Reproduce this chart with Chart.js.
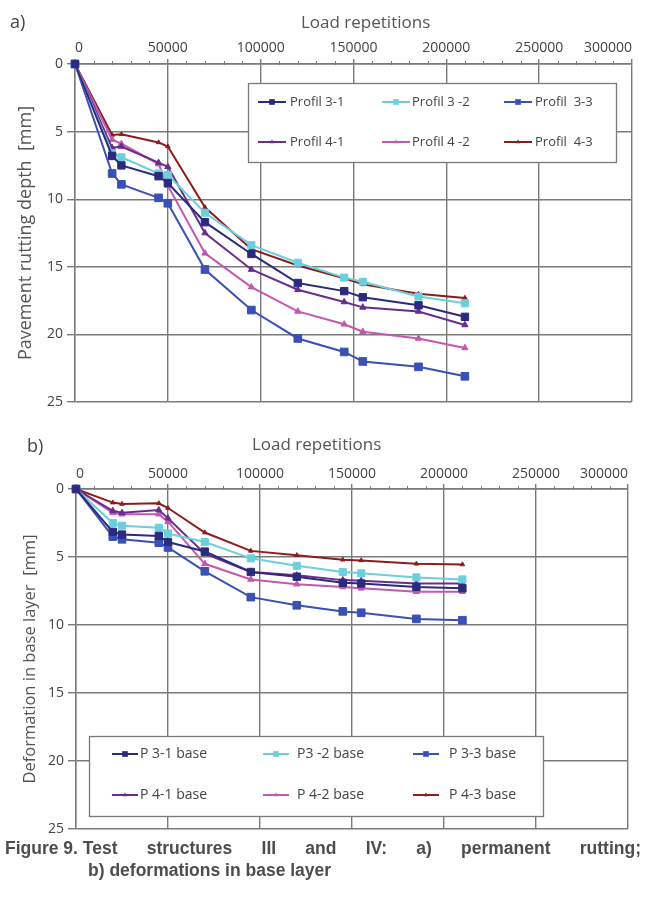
<!DOCTYPE html>
<html><head><meta charset="utf-8">
<script src="https://cdn.jsdelivr.net/npm/chart.js@4.4.1/dist/chart.umd.min.js"></script>
<style>
html,body{margin:0;padding:0;background:#fff;}
body{width:647px;height:898px;position:relative;overflow:hidden;}
canvas{position:absolute;left:0;}
.lbl{position:absolute;font-family:'Open Sans';font-size:18px;line-height:1;color:#444;}
.xt{position:absolute;font-family:'Open Sans';font-size:17px;line-height:1;color:#555;white-space:nowrap;}
.cap{position:absolute;font-family:'Liberation Sans',Arial,sans-serif;font-weight:bold;font-size:17.5px;line-height:1;color:#4d4d4d;white-space:nowrap;}
#cap1{left:5px;width:636px;top:840px;display:flex;justify-content:space-between;}
#cap2{left:88px;top:862px;}
</style></head>
<body>
<canvas id="ca" width="647" height="420" style="top:0;width:647px;height:420px"></canvas>
<canvas id="cb" width="647" height="420" style="top:420px;width:647px;height:420px"></canvas>
<div class="lbl" style="left:10px;top:12px">a)</div>
<div class="lbl" style="left:27px;top:436px">b)</div>
<div class="xt" style="left:301px;top:13px">Load repetitions</div>
<div class="xt" style="left:252px;top:435px">Load repetitions</div>
<div class="cap" id="cap1"><span>Figure 9. Test</span><span>structures</span><span>III</span><span>and</span><span>IV:</span><span>a)</span><span>permanent</span><span>rutting;</span></div>
<div class="cap" id="cap2">b) deformations in base layer</div>
<script>
// ---- data ----
const loadRepetitions = [0, 20000, 25000, 45000, 50000, 70000, 95000, 120000, 145000, 155000, 185000, 210000];
const xTickValues = [0, 50000, 100000, 150000, 200000, 250000, 300000];
const yTickValues = [0, 5, 10, 15, 20, 25];

const labelsA = ['Profil 3-1', 'Profil 3 -2', 'Profil  3-3', 'Profil 4-1', 'Profil 4 -2', 'Profil  4-3'];
const rut31 = [0, 6.8, 7.5, 8.3, 8.8, 11.7, 14.05, 16.2, 16.8, 17.25, 17.85, 18.7];
const rut32 = [0, 6.6, 6.9, 8.1, 8.2, 11.0, 13.4, 14.7, 15.8, 16.1, 17.2, 17.7];
const rut33 = [0, 8.1, 8.9, 9.9, 10.3, 15.2, 18.2, 20.3, 21.3, 22.0, 22.4, 23.1];
const rut41 = [0, 6.2, 6.1, 7.3, 7.6, 12.5, 15.2, 16.7, 17.6, 18.0, 18.3, 19.3];
const rut42 = [0, 5.6, 5.9, 7.4, 9.0, 14.0, 16.5, 18.3, 19.25, 19.8, 20.3, 21.0];
const rut43 = [0, 5.25, 5.2, 5.8, 6.1, 10.6, 13.7, 14.9, 15.85, 16.3, 17.0, 17.3];

const labelsB = ['P 3-1 base', 'P3 -2 base', 'P 3-3 base', 'P 4-1 base', 'P 4-2 base', 'P 4-3 base'];
const base31 = [0, 3.15, 3.35, 3.45, 3.9, 4.6, 6.1, 6.45, 6.9, 6.95, 7.2, 7.3];
const base32 = [0, 2.5, 2.7, 2.85, 3.27, 3.9, 5.1, 5.65, 6.1, 6.2, 6.5, 6.65];
const base33 = [0, 3.5, 3.7, 3.95, 4.3, 6.05, 7.95, 8.55, 9.0, 9.1, 9.55, 9.65];
const base41 = [0, 1.6, 1.75, 1.55, 2.15, 4.75, 6.1, 6.35, 6.7, 6.75, 6.95, 6.95];
const base42 = [0, 1.75, 1.85, 1.85, 2.4, 5.5, 6.65, 7.0, 7.2, 7.3, 7.55, 7.55];
const base43 = [0, 1.0, 1.1, 1.05, 1.4, 3.2, 4.55, 4.87, 5.2, 5.25, 5.5, 5.55];

// ---- styles ----
const colors = ['#2c2a7e', '#6ccfdc', '#3a50b4', '#6b2d8c', '#c457b1', '#8d1c1c'];
const styles = ['rect', 'rect', 'rect', 'triangle', 'triangle', 'triangle'];
const radii = [5.2, 5.0, 5.4, 3.6, 3.6, 2.6];
const GRID = '#7a7a7a';

function makeSets(labels, series) {
  return series.map((vals, i) => ({
    label: labels[i],
    data: loadRepetitions.map((x, j) => ({x: x, y: vals[j]})),
    borderColor: colors[i],
    backgroundColor: colors[i],
    pointStyle: styles[i],
    pointRadius: radii[i],
    pointHoverRadius: radii[i],
    pointBorderWidth: 1,
    borderWidth: 2,
    tension: 0,
    clip: false
  }));
}

function drawMarker(ctx, style, x, y, r) {
  ctx.beginPath();
  if (style === 'rect') {
    const s = r * Math.SQRT1_2;
    ctx.rect(x - s, y - s, 2 * s, 2 * s);
  } else if (style === 'triangle') {
    ctx.moveTo(x, y - r);
    ctx.lineTo(x + r * 0.866, y + r * 0.5);
    ctx.lineTo(x - r * 0.866, y + r * 0.5);
    ctx.closePath();
  } else {
    ctx.arc(x, y, r, 0, Math.PI * 2);
  }
  ctx.fill();
}

const decor = {
  id: 'decor',
  beforeDatasetsDraw(chart, args, o) {
    const ctx = chart.ctx, xs = chart.scales.x, top = chart.chartArea.top;
    ctx.save();
    ctx.strokeStyle = GRID; ctx.lineWidth = 1;
    for (let v = 10000; v < 300000; v += 10000) {
      if (v % 50000 === 0) continue;
      const px = Math.round(xs.getPixelForValue(v)) + 0.5;
      ctx.beginPath(); ctx.moveTo(px, top - 3); ctx.lineTo(px, top + 1); ctx.stroke();
    }
    ctx.restore();
  },
  afterDraw(chart, args, o) {
    const ctx = chart.ctx, b = o.box;
    ctx.save();
    ctx.fillStyle = '#fff';
    ctx.fillRect(b[0], b[1], b[2] - b[0], b[3] - b[1]);
    ctx.strokeStyle = GRID; ctx.lineWidth = 1.3;
    ctx.strokeRect(b[0] + 0.5, b[1] + 0.5, b[2] - b[0], b[3] - b[1]);
    ctx.font = o.font;
    ctx.textBaseline = 'middle';
    chart.data.datasets.forEach((ds, i) => {
      const r = Math.floor(i / 3), c = i % 3;
      const y = o.rows[r], x0 = o.lineX[c], x1 = x0 + o.lineLen;
      ctx.strokeStyle = ds.borderColor; ctx.lineWidth = 2;
      ctx.beginPath(); ctx.moveTo(x0, y); ctx.lineTo(x1, y); ctx.stroke();
      ctx.fillStyle = ds.borderColor;
      drawMarker(ctx, ds.pointStyle, (x0 + x1) / 2, y, ds.pointStyle === 'rect' ? 4 : 2.6);
      ctx.fillStyle = '#444';
      ctx.fillText(ds.label, o.textX[c], y + 0.5);
    });
    ctx.restore();
  }
};

function makeChart(id, labels, series, cfg) {
  return new Chart(document.getElementById(id), {
    type: 'line',
    data: {datasets: makeSets(labels, series)},
    plugins: [decor],
    options: {
      responsive: false,
      animation: false,
      events: [],
      layout: {padding: {left: 0, top: 0, right: cfg.padRight, bottom: cfg.padBottom}},
      plugins: {legend: {display: false}, tooltip: {enabled: false}, decor: cfg.legend},
      scales: {
        x: {
          type: 'linear', position: 'top', min: 0, max: 300000,
          afterBuildTicks: s => { s.ticks = xTickValues.map(v => ({value: v})); },
          afterFit: s => { s.height = cfg.xHeight; s.paddingLeft = 0; s.paddingRight = 0; },
          ticks: {align: 'inner', maxRotation: 0, autoSkip: false, padding: cfg.xTickPad, color: '#444',
                  font: {family: 'Open Sans', size: 14}, callback: v => String(v)},
          grid: {color: GRID, lineWidth: 1.4, tickLength: 5},
          border: {color: GRID, width: 1.4},
          title: {display: false, text: 'Load repetitions'}
        },
        y: {
          type: 'linear', reverse: true, min: 0, max: 25,
          afterBuildTicks: s => { s.ticks = yTickValues.map(v => ({value: v})); },
          afterFit: s => { s.width = cfg.yWidth; s.paddingTop = 0; s.paddingBottom = 0; },
          ticks: {padding: 4, color: '#444', font: {family: 'Open Sans', size: 14}},
          grid: {color: GRID, lineWidth: 1.4, tickLength: 8},
          border: {color: GRID, width: 1.4},
          title: {display: true, text: cfg.yTitle, color: '#555',
                  font: {family: 'Open Sans', size: cfg.yTitleSize}, padding: {top: cfg.yTitlePad, bottom: 0}}
        }
      }
    }
  });
}

makeChart('ca', labelsA, [rut31, rut32, rut33, rut41, rut42, rut43], {
  padRight: 15, padBottom: 18, xHeight: 64, yWidth: 75, xTickPad: 3, yTitlePad: 15, yTitleSize: 18,
  yTitle: 'Pavement rutting depth  [mm]',
  legend: {box: [248, 83, 616, 162], rows: [102, 142], lineX: [258, 382, 504], lineLen: 28,
           textX: [290, 412, 535], font: "13px 'Open Sans'"}
});

makeChart('cb', labelsB, [base31, base32, base33, base41, base42, base43], {
  padRight: 19, padBottom: 11, xHeight: 69, yWidth: 76, xTickPad: 2, yTitlePad: 20, yTitleSize: 16.5,
  yTitle: 'Deformation in base layer  [mm]',
  legend: {box: [89, 316, 543, 396], rows: [334, 375], lineX: [112, 263, 413], lineLen: 26,
           textX: [140, 297, 449], font: "14px 'Open Sans'"}
});
</script>
</body></html>
